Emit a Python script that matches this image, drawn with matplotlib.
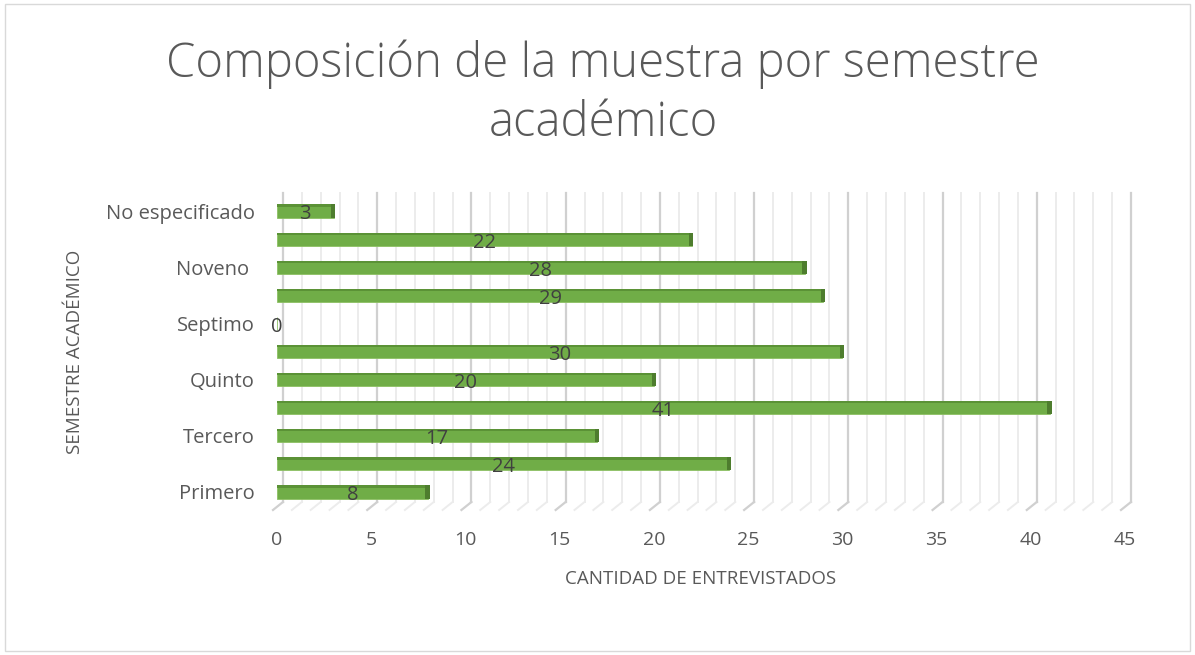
import numpy as np
import matplotlib.pyplot as plt
import matplotlib.transforms as mtransforms
from matplotlib.patches import Rectangle

semestres = ['Primero', 'Segundo', 'Tercero', 'Cuarto', 'Quinto', 'Sexto',
             'Septimo', 'Octavo', 'Noveno ', 'Décimo', 'No especificado']
cantidad = [8, 24, 17, 41, 20, 30, 0, 29, 28, 22, 3]
xticks = [0, 5, 10, 15, 20, 25, 30, 35, 40, 45]

plt.rcParams['font.family'] = ['Open Sans', 'DejaVu Sans']

fig = plt.figure(figsize=(11.95, 6.55), dpi=100)
fig.patches.append(Rectangle((0.004, 0.006), 0.992, 0.988, transform=fig.transFigure,
                             fill=False, edgecolor='#d9d9d9', linewidth=1))
ax = fig.add_axes([277/1195, 1 - 506/655, (1125 - 277)/1195, (506 - 197)/655])

y = np.arange(len(semestres))
h = 0.47
ax.set_xlim(0, 45)
ax.set_ylim(-0.5, len(semestres) - 0.5)

# rejilla con efecto 3D (desplazada y con pie inclinado)
off = mtransforms.offset_copy(ax.transData, fig=fig, x=6, y=0, units='dots')
trans = mtransforms.blended_transform_factory(off, ax.transAxes)
for v in range(0, 46):
    col = '#d0d0d0' if v % 5 == 0 else '#ececec'
    lw = 1.6 if v % 5 == 0 else 1.4
    ax.plot([v, v], [0.013, 1.013], color=col, lw=lw, transform=trans, zorder=0, clip_on=False)
    p0 = trans.transform((v, 0.013))
    p1 = p0 + np.array([-10, -8])
    ax.plot([p0[0], p1[0]], [p0[1], p1[1]], color=col, lw=lw,
            transform=mtransforms.IdentityTransform(), zorder=0, clip_on=False)

# barras
ax.barh(y, cantidad, height=h, color='#70ad47', edgecolor='#8cc063', linewidth=0.6, zorder=2)
ax.barh(y + h/2 - 0.04, cantidad, height=0.08, color='#5b9236', linewidth=0, zorder=3)
for yi, v in zip(y, cantidad):
    if v > 0:
        ax.barh(yi, 0.22, left=v - 0.12, height=h, color='#4e7d2e', linewidth=0, zorder=3)
    ax.text(v/2, yi - 0.12, str(v), ha='center', va='center', fontsize=14.5,
            color='#404040', zorder=4)

ax.set_xticks(xticks)
ax.set_xticklabels([str(t) for t in xticks], fontsize=14, color='#595959')
ax.set_yticks(y)
ax.set_yticklabels([s if i % 2 == 0 else '' for i, s in enumerate(semestres)],
                   fontsize=14.5, color='#595959')
ax.tick_params(axis='both', length=0)
ax.tick_params(axis='x', pad=18)
ax.tick_params(axis='y', pad=16)
for s in ax.spines.values():
    s.set_visible(False)

ax.set_xlabel('CANTIDAD DE ENTREVISTADOS', fontsize=13.5, color='#595959', labelpad=15)
ax.set_ylabel('SEMESTRE ACADÉMICO', fontsize=13.5, color='#595959', labelpad=16)

fig.text(603/1195, 1 - 94/655, 'Composición de la muestra por semestre\nacadémico',
         ha='center', va='center', fontsize=34, color='#595959',
         fontweight='light', linespacing=1.3)

fig.savefig('out.png', dpi=100)
